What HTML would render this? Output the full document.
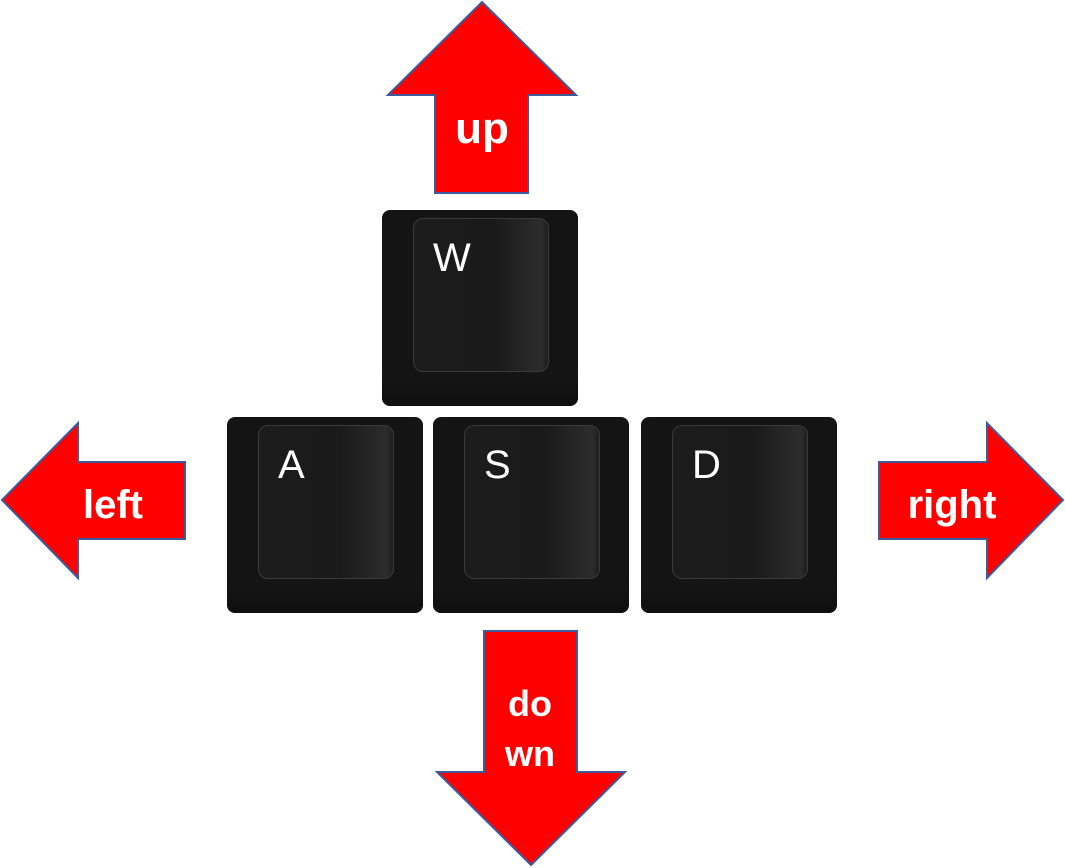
<!DOCTYPE html>
<html><head><style>
body{margin:0;width:1065px;height:868px;background:#fff;position:relative;overflow:hidden;font-family:"Liberation Sans",sans-serif}
.key{position:absolute;width:196px;height:196px;border-radius:8px;background:#141414;overflow:hidden}
.key .face{position:absolute;left:31px;top:8px;width:136px;height:154px;border-radius:10px;border:1px solid #3a3a3a;background:linear-gradient(90deg,#1c1c1c,#1a1a1a 60%,#2c2c2c 95%,#1e1e1e);box-sizing:border-box}
.key .l{position:absolute;left:19px;top:17px;color:#fff;font-size:40px}
.key .b{position:absolute;left:0;bottom:0;width:196px;height:34px;background:linear-gradient(#151515,#0f0f0f)}
svg{position:absolute;left:0;top:0}
</style></head><body>
<svg width="1065" height="868">
<g fill="#ff0000" stroke="#3b5b9b" stroke-width="2">
<polygon points="482,2 576,95 528,95 528,193 435,193 435,95 388,95"/>
<polygon points="2,500 78,423 78,462 185,462 185,539 78,539 78,578"/>
<polygon points="1063,500 987,423 987,462 879,462 879,539 987,539 987,578"/>
<polygon points="531,865 625,772 577,772 577,631 484,631 484,772 437,772"/>
</g>
<g fill="#fff" font-family="Liberation Sans,sans-serif" font-weight="bold" text-anchor="middle">
<text x="482" y="143" font-size="44">up</text>
<text x="113" y="518" font-size="40">left</text>
<text x="952" y="518" font-size="40">right</text>
<text x="530" y="716" font-size="36">do</text>
<text x="530" y="766" font-size="36">wn</text>
</g>
</svg>
<div class="key" style="left:382px;top:210px"><div class="b"></div><div class="face"><div class="l">W</div></div></div>
<div class="key" style="left:227px;top:417px"><div class="b"></div><div class="face"><div class="l">A</div></div></div>
<div class="key" style="left:433px;top:417px"><div class="b"></div><div class="face"><div class="l">S</div></div></div>
<div class="key" style="left:641px;top:417px"><div class="b"></div><div class="face"><div class="l">D</div></div></div>
</body></html>
